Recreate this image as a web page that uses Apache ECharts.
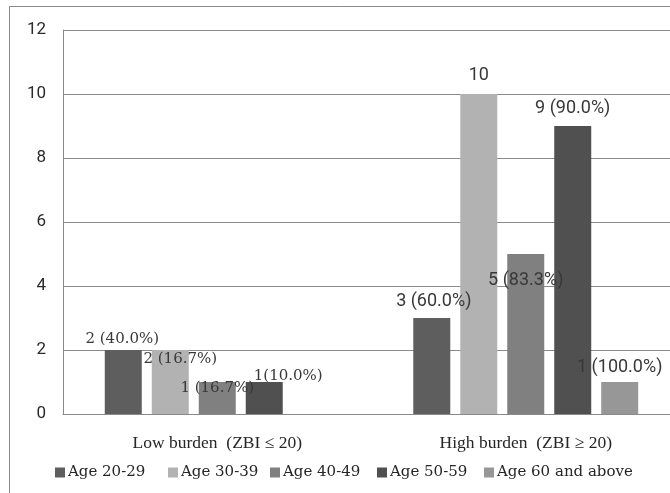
<!DOCTYPE html>
<html>
<head>
<meta charset="utf-8">
<script src="https://cdn.jsdelivr.net/npm/echarts@6/dist/echarts.min.js"></script>
<style>
  html, body { margin: 0; padding: 0; background: #fff; }
  #chart { width: 670px; height: 493px; }
</style>
</head>
<body>
<div id="chart"></div>
<script>
// Caregiver burden by age group
const categories = ['Low burden  (ZBI \u2264 20)', 'High burden  (ZBI \u2265 20)'];
const seriesNames = ['Age 20-29', 'Age 30-39', 'Age 40-49', 'Age 50-59', 'Age 60 and above'];

const age20to29 = [2, 3];
const age30to39 = [2, 10];
const age40to49 = [1, 5];
const age50to59 = [1, 9];
const age60plus = [0, 1];

// percentage text shown after each count
const pct20to29 = [' (40.0%)', ' (60.0%)'];
const pct30to39 = [' (16.7%)', ''];
const pct40to49 = [' (16.7%)', ' (83.3%)'];
const pct50to59 = ['(10.0%)', ' (90.0%)'];
const pct60plus = ['', ' (100.0%)'];

const yTicks = { min: 0, max: 12, step: 2 };

// ---- styling ----
const colors = ['#5e5e5e', '#b2b2b2', '#808080', '#505050', '#979797'];
const SERIF = '"DejaVu Serif", "Liberation Serif", serif';
const SERIF_AXIS = '"Liberation Serif", "DejaVu Serif", serif';
const SANS = 'Roboto, "Liberation Sans", sans-serif';

// label placement tweaks per bar: [dx, dy]; font per category
const labelOffsets = [
  [[-1, 2], [2, -3]],
  [[10, 22], [0, -5]],
  [[0, 19], [0, 40]],
  [[24, 7], [0, -4]],
  [[0, 0], [0, -1]]
];
const labelFonts = [
  { fontFamily: SERIF, fontSize: 15 },
  { fontFamily: SANS, fontSize: 18 }
];
// left edge of each legend entry
const legendLefts = [55, 168, 270, 377, 484];

const values = [age20to29, age30to39, age40to49, age50to59, age60plus];
const pcts = [pct20to29, pct30to39, pct40to49, pct50to59, pct60plus];

const series = values.map((vals, si) => ({
  name: seriesNames[si],
  type: 'bar',
  barWidth: 37,
  barGap: '27%',
  itemStyle: { color: colors[si] },
  data: vals.map((v, ci) => ({
    value: v,
    label: {
      show: v > 0,
      position: 'top',
      distance: 5,
      offset: labelOffsets[si][ci],
      fontFamily: labelFonts[ci].fontFamily,
      fontSize: labelFonts[ci].fontSize,
      color: '#383838',
      formatter: () => v + pcts[si][ci]
    }
  }))
}));

const legends = seriesNames.map((name, i) => ({
  data: [name],
  left: legendLefts[i],
  top: 465,
  padding: 0,
  icon: 'rect',
  itemWidth: 10,
  itemHeight: 10,
  textStyle: { fontFamily: SERIF, fontSize: 15, color: '#262626', padding: [0, 0, 0, -2] }
}));

const chart = echarts.init(document.getElementById('chart'), null, { renderer: 'canvas' });
chart.setOption({
  animation: false,
  backgroundColor: '#ffffff',
  color: colors,
  graphic: [{
    type: 'rect',
    shape: { x: 9.5, y: 6.5, width: 800, height: 600 },
    style: { fill: 'none', stroke: '#8a8a8a', lineWidth: 1 },
    silent: true
  }],
  grid: {
    left: 63, top: 30, width: 617, height: 384,
    containLabel: false,
    outerBoundsMode: 'none'
  },
  legend: legends,
  xAxis: {
    type: 'category',
    data: categories,
    axisLine: { show: true, lineStyle: { color: '#8a8a8a', width: 1 } },
    axisTick: { show: false },
    axisLabel: { margin: 20, fontFamily: SERIF_AXIS, fontSize: 17.5, color: '#262626' }
  },
  yAxis: {
    type: 'value',
    min: yTicks.min,
    max: yTicks.max,
    interval: yTicks.step,
    axisLine: { show: true, lineStyle: { color: '#8a8a8a', width: 1 } },
    axisTick: { show: false },
    axisLabel: { margin: 17, fontFamily: SANS, fontSize: 17, color: '#2b2b2b' },
    splitLine: { show: true, lineStyle: { color: '#8a8a8a', width: 1 } }
  },
  series: series
});
</script>
</body>
</html>
